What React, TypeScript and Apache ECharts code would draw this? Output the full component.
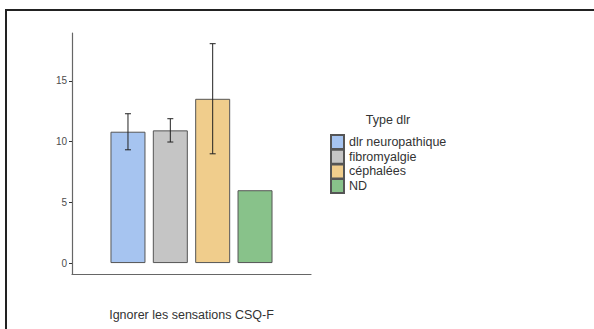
import React, { useEffect, useRef } from "react";
import * as echarts from "echarts";

const category = ["Ignorer les sensations CSQ-F"];
const groups = ["dlr neuropathique", "fibromyalgie", "céphalées", "ND"];
const means = [10.82, 10.93, 13.53, 6.0];
const errLow = [9.33, 9.97, 9.0, null];
const errHigh = [12.3, 11.89, 18.07, null];
const colors = ["#a6c4f0", "#c5c5c5", "#f0cd8c", "#88c28a"];
const yTicks = [0, 5, 10, 15];

const BAR_W = 35;
const BAR_GAP = 0.21;

export default function App() {
  const ref = useRef<HTMLDivElement>(null);
  useEffect(() => {
    if (!ref.current) return;
    const chart = echarts.init(ref.current, null, { renderer: "svg" });
    const font = "'Liberation Sans', Arial, sans-serif";
    const barSeries = groups.map((g, i) => ({
      type: "bar",
      name: g,
      data: [means[i]],
      barWidth: BAR_W,
      barGap: `${BAR_GAP * 100}%`,
      itemStyle: { color: colors[i], borderColor: "#555555", borderWidth: 1 },
      z: 2,
    }));
    const errSeries = {
      type: "custom",
      name: "err",
      data: groups.map((_, i) => [0, errLow[i], errHigh[i], i]).filter((d) => d[1] != null),
      z: 5,
      renderItem: (params: any, api: any) => {
        const idx = api.value(3);
        const step = BAR_W * (1 + BAR_GAP);
        const off = (idx - (groups.length - 1) / 2) * step;
        const lo = api.coord([api.value(0), api.value(1)]);
        const hi = api.coord([api.value(0), api.value(2)]);
        const x = lo[0] + off;
        const cap = 3;
        const style = { stroke: "#222222", lineWidth: 1 };
        return {
          type: "group",
          children: [
            { type: "line", shape: { x1: x, y1: lo[1], x2: x, y2: hi[1] }, style },
            { type: "line", shape: { x1: x - cap, y1: lo[1], x2: x + cap, y2: lo[1] }, style },
            { type: "line", shape: { x1: x - cap, y1: hi[1], x2: x + cap, y2: hi[1] }, style },
          ],
        };
      },
    };
    chart.setOption({
      animation: false,
      backgroundColor: "#ffffff",
      textStyle: { fontFamily: font },
      grid: { left: 72, top: 33, right: 283, bottom: 55, containLabel: false },
      xAxis: {
        type: "category",
        data: category,
        axisLine: { onZero: false, lineStyle: { color: "#666666", width: 1.2 } },
        axisTick: { alignWithLabel: true, length: 3, lineStyle: { color: "#333333" } },
        axisLabel: { show: false },
        name: category[0],
        nameLocation: "middle",
        nameGap: 34,
        nameTextStyle: { fontSize: 12.5, color: "#333333", fontFamily: font },
      },
      yAxis: {
        type: "value",
        min: -0.9,
        max: 18.95,
        splitLine: { show: false },
        axisLine: { show: true, lineStyle: { color: "#666666", width: 1.2 } },
        axisTick: { show: true, length: 3, customValues: yTicks, lineStyle: { color: "#333333" } },
        axisLabel: { customValues: yTicks, fontSize: 10, color: "#4d4d4d", margin: 5, fontFamily: font },
      },
      legend: {
        data: groups,
        orient: "vertical",
        left: 330,
        top: 134,
        padding: 0,
        itemWidth: 13,
        itemHeight: 14,
        itemGap: -1.3,
        icon: "rect",
        textStyle: { fontSize: 12.5, color: "#333333", fontFamily: font },
      },
      graphic: [
        {
          type: "rect",
          shape: { x: 6, y: 10, width: 620, height: 340 },
          style: { fill: "none", stroke: "#222222", lineWidth: 2 },
          silent: true,
        },
        {
          type: "text",
          x: 388,
          y: 120,
          style: {
            text: "Type dlr",
            fontSize: 12.5,
            fill: "#333333",
            fontFamily: font,
            textAlign: "center",
            textVerticalAlign: "middle",
          },
        },
      ],
      series: [...barSeries, errSeries],
    });
    return () => chart.dispose();
  }, []);
  return (
    <div
      ref={ref}
      style={{ position: "absolute", left: 0, top: 0, width: 594, height: 329 }}
    />
  );
}
